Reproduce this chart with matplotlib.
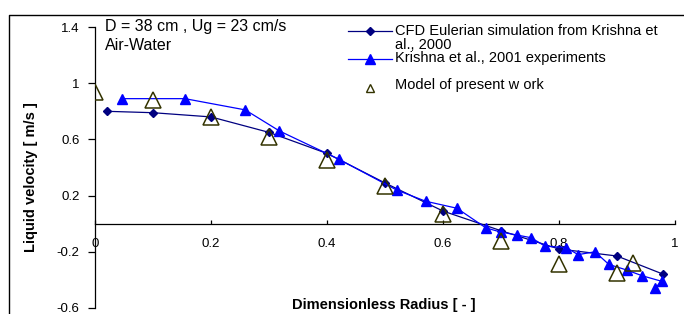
import matplotlib
matplotlib.use("Agg")
import matplotlib.pyplot as plt
from matplotlib.lines import Line2D

plt.rcParams['font.family'] = ['Liberation Sans', 'DejaVu Sans']

# CFD Eulerian simulation (Krishna et al., 2000)
cfd_x = [0.02, 0.10, 0.20, 0.30, 0.40, 0.50, 0.60, 0.70, 0.80, 0.90, 0.98]
cfd_y = [0.80, 0.79, 0.76, 0.65, 0.50, 0.29, 0.09, -0.05, -0.18, -0.23, -0.36]

# Krishna et al., 2001 experiments
exp_x = [0.047, 0.155, 0.259, 0.318, 0.42, 0.52, 0.57, 0.624, 0.674, 0.70,
         0.727, 0.752, 0.776, 0.812, 0.833, 0.862, 0.886, 0.917, 0.943,
         0.977, 0.965]
exp_y = [0.89, 0.89, 0.81, 0.66, 0.46, 0.24, 0.16, 0.11, -0.03, -0.06,
         -0.08, -0.10, -0.16, -0.17, -0.22, -0.20, -0.29, -0.33, -0.37,
         -0.41, -0.46]

# Model of present work
mod_x = [0.0, 0.10, 0.20, 0.30, 0.40, 0.50, 0.60, 0.70, 0.80, 0.90, 0.928]
mod_y = [0.94, 0.88, 0.76, 0.62, 0.45, 0.27, 0.07, -0.12, -0.29, -0.35, -0.28]

yticks = [-0.6, -0.2, 0.2, 0.6, 1.0, 1.4]
ytick_labels = ["-0.6", "-0.2", "0.2", "0.6", "1", "1.4"]
xticks = [0, 0.2, 0.4, 0.6, 0.8, 1.0]
xtick_labels = ["0", "0.2", "0.4", "0.6", "0.8", "1"]

navy = "#000080"
blue = "#0000ff"
olive = "#333300"

fig = plt.figure(figsize=(6.84, 3.14), dpi=100)
ax = fig.add_axes([95 / 684, 6 / 314, 580 / 684, 281 / 314])

ax.plot(cfd_x, cfd_y, color=navy, lw=0.9, marker="D", ms=4.5, zorder=3)
ax.plot(exp_x, exp_y, color=blue, lw=0.9, marker="^", ms=7, zorder=4)
ax.plot(mod_x, mod_y, ls="none", marker="^", ms=11, mfc="none",
        mec=olive, mew=1.1, zorder=5)

ax.set_xlim(0, 1)
ax.set_ylim(-0.6, 1.4)
ax.spines['top'].set_visible(False)
ax.spines['right'].set_visible(False)
ax.spines['bottom'].set_position(('data', 0))
ax.spines['left'].set_linewidth(0.9)
ax.spines['bottom'].set_linewidth(0.9)

ax.set_yticks(yticks)
ax.set_yticklabels(ytick_labels, fontsize=9.5)
ax.set_xticks(xticks)
ax.set_xticklabels(xtick_labels, fontsize=9.5)
ax.tick_params(axis='y', direction='out', length=5, width=0.9, pad=6)
ax.tick_params(axis='x', direction='in', length=3, width=0.9, pad=10)

fig.text(384 / 684, 1 - 305 / 314, "Dimensionless Radius [ - ]", fontsize=10.5,
         fontweight="bold", ha="center", va="center")
fig.text(31 / 684, 1 - 177 / 314, "Liquid velocity [ m/s ]", fontsize=10.5,
         fontweight="bold", ha="center", va="center", rotation=90)

fig.text(105 / 684, 1 - 27 / 314, "D = 38 cm , Ug = 23 cm/s", fontsize=11.5,
         ha="left", va="center")
fig.text(105 / 684, 1 - 45 / 314, "Air-Water", fontsize=11.5,
         ha="left", va="center")

# legend drawn by hand so that it can run off the right edge
def legend_entry(y, line_color, marker, ms, mfc, mec, with_line=True):
    yy = 1 - y / 314
    if with_line:
        fig.add_artist(Line2D([348 / 684, 392 / 684], [yy, yy], color=line_color,
                              lw=0.9, transform=fig.transFigure))
    fig.add_artist(Line2D([370 / 684], [yy], marker=marker, ms=ms, mfc=mfc,
                          mec=mec, ls="none", transform=fig.transFigure))

legend_entry(31, navy, "D", 4.5, navy, navy)
legend_entry(59, blue, "^", 7, blue, blue)
legend_entry(88, olive, "^", 6, "none", olive, with_line=False)
fig.text(395 / 684, 1 - 31 / 314, "CFD Eulerian simulation from Krishna et",
         fontsize=10.5, ha="left", va="center")
fig.text(395 / 684, 1 - 45 / 314, "al., 2000", fontsize=10.5, ha="left", va="center")
fig.text(395 / 684, 1 - 58 / 314, "Krishna et al., 2001 experiments",
         fontsize=10.5, ha="left", va="center")
fig.text(395 / 684, 1 - 85 / 314, "Model of present w ork",
         fontsize=10.5, ha="left", va="center")

# chart area border
fig.add_artist(Line2D([9 / 684, 9 / 684, 1.0], [0.0, 1 - 15 / 314, 1 - 15 / 314],
                      color="black", lw=1.0, transform=fig.transFigure))

fig.savefig("out.png", dpi=100)
